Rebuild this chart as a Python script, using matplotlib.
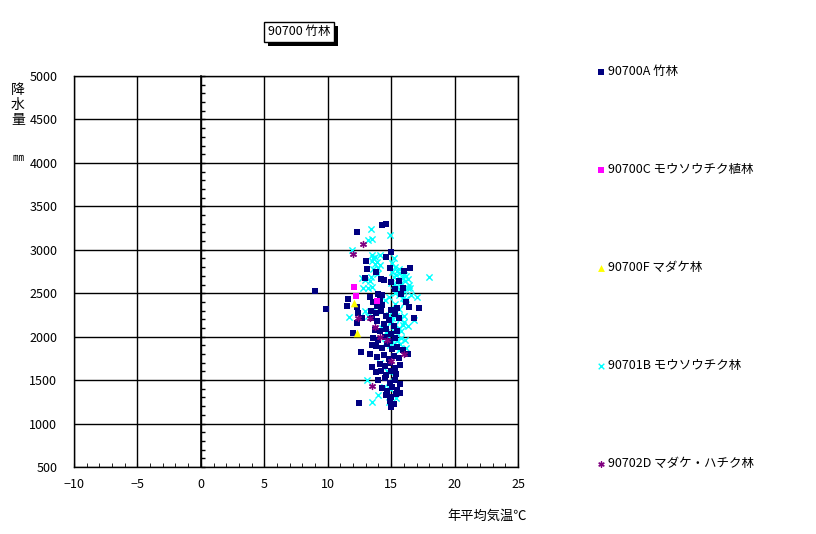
import matplotlib
matplotlib.use('Agg')
import matplotlib.pyplot as plt
from matplotlib import patheffects

plt.rcParams['font.family'] = ['Noto Sans CJK JP', 'DejaVu Sans']

# 90700A 竹林 (navy squares)
a_temp = [14.3, 14.6, 12.3, 15.0, 13.0, 13.1, 14.6, 13.8, 14.2, 14.4, 12.9, 15.0, 14.9,
          16.0, 16.5, 15.3, 15.8, 9.0, 9.9, 11.6, 11.5, 12.3, 12.4, 14.0, 14.3, 16.4,
          17.2, 16.8, 12.7, 12.3, 12.0, 13.5, 12.6, 13.3, 13.5, 16.3, 12.5, 15.0, 15.7,
          13.3, 13.6, 13.9, 13.4, 13.8, 14.1, 13.5, 14.3, 15.6, 15.9, 16.2, 15.5,
          14.2, 14.6, 15.0, 15.3, 13.9, 14.4, 14.8, 15.2, 15.6,
          13.7, 14.1, 14.6, 15.0, 15.5, 13.6, 14.0, 14.5, 14.9, 15.3,
          13.8, 14.3, 14.7, 15.1, 15.5, 15.9, 13.9, 14.4, 14.8, 15.2, 15.6,
          14.1, 14.5, 14.9, 15.3, 15.7, 13.8, 14.2, 14.6, 15.0, 15.4,
          14.0, 14.5, 14.9, 15.3, 15.7, 14.3, 14.7, 15.1, 15.5,
          14.6, 15.0, 15.4, 14.9, 15.2]
a_prec = [3290, 3300, 3210, 2980, 2870, 2780, 2920, 2740, 2665, 2650, 2680, 2625, 2790,
          2760, 2790, 2545, 2490, 2530, 2315, 2435, 2355, 2340, 2275, 2490, 2480, 2345,
          2335, 2220, 2220, 2155, 2045, 1905, 1825, 1800, 1655, 1795, 1235, 1195, 1350,
          2460, 2400, 2350, 2300, 2270, 2420, 2210, 2360, 2640, 2560, 2400, 2330,
          2290, 2240, 2310, 2260, 2180, 2150, 2190, 2120, 2210,
          2080, 2060, 2090, 2030, 2070, 1990, 1960, 2000, 1950, 1985,
          1890, 1870, 1910, 1860, 1880, 1850, 1770, 1790, 1740, 1780, 1760,
          1690, 1660, 1700, 1640, 1670, 1590, 1610, 1560, 1600, 1570,
          1500, 1520, 1470, 1500, 1450, 1410, 1380, 1420, 1390,
          1330, 1300, 1340, 1260, 1230]

# 90700C モウソウチク植林 (magenta squares)
c_temp = [12.1, 12.2, 13.9]
c_prec = [2575, 2470, 2415]

# 90700F マダケ林 (yellow triangles)
f_temp = [12.1, 12.3]
f_prec = [2385, 2045]

# 90701B モウソウチク林 (cyan crosses)
b_temp = [13.4, 14.9, 13.2, 13.5, 11.9, 13.5, 13.7, 14.1, 15.2, 18.0, 12.7, 12.9, 13.3,
          12.8, 13.2, 13.5, 17.0, 11.7, 14.5, 14.8, 16.8, 14.1, 13.1, 14.0, 13.5, 14.8,
          15.4, 14.4,
          13.5, 13.7, 13.9, 14.1, 13.6, 13.8, 14.0, 13.9, 13.4, 13.6,
          15.1, 15.3, 15.5, 15.7, 16.0, 16.2, 15.2, 15.5, 15.8, 16.1, 16.4, 15.4, 15.7,
          16.0, 16.3, 15.6, 15.9, 16.2, 15.3, 16.6, 15.1, 15.0,
          15.4, 15.6, 15.9, 16.5, 15.2, 16.3, 15.8, 16.0,
          14.8, 15.1, 15.4, 15.7, 16.0, 14.9, 15.3, 15.6, 15.9, 16.3, 14.6, 15.0, 15.4,
          15.8, 16.1, 14.5, 14.9, 15.3, 15.7, 16.2, 14.3, 15.5,
          15.0, 15.2, 15.5, 15.8, 14.7, 16.0, 15.6, 15.1,
          12.9, 13.2, 14.7, 15.2, 14.9, 13.8, 15.6, 15.3]
b_prec = [3235, 3170, 3115, 3125, 3000, 2940, 2920, 2940, 2900, 2685, 2670, 2650, 2635,
          2560, 2555, 2575, 2460, 2225, 2420, 2460, 2190, 1695, 1500, 1330, 1250, 1250,
          1290, 1425,
          2870, 2840, 2860, 2820, 2780, 2760, 2790, 2720, 2690, 2900,
          2850, 2800, 2760, 2730, 2710, 2700, 2690, 2650, 2620, 2640, 2600, 2580, 2550,
          2520, 2560, 2480, 2450, 2430, 2500, 2480, 2740, 2620,
          2710, 2780, 2680, 2560, 2590, 2660, 2520, 2390,
          2250, 2220, 2240, 2200, 2170, 2160, 2130, 2100, 2140, 2120, 2050, 2020, 2000,
          1990, 1960, 1930, 1900, 1880, 1910, 1870, 2100, 1960,
          2180, 2070, 1950, 2060, 1980, 2240, 1850, 1940,
          2300, 2240, 1600, 1550, 1400, 2300, 2320, 2380]

# 90702D マダケ・ハチク林 (purple asterisks)
d_temp = [12.8, 12.0, 12.4, 13.3, 13.7, 14.1, 14.7, 15.0, 13.5, 16.0]
d_prec = [3065, 2950, 2210, 2210, 2115, 2000, 1960, 1715, 1430, 1800]

x_ticks = [-10, -5, 0, 5, 10, 15, 20, 25]
y_ticks = [500, 1000, 1500, 2000, 2500, 3000, 3500, 4000, 4500, 5000]

fig = plt.figure(figsize=(8.16, 5.34), dpi=100)
ax = fig.add_axes([74 / 816, 67 / 534, 444 / 816, 391 / 534])

ax.scatter(b_temp, b_prec, marker='x', s=20, color='#00FFFF', linewidths=1, zorder=3,
           label='90701B モウソウチク林')
ax.scatter(a_temp, a_prec, marker='s', s=24, color='#000080', linewidths=0, zorder=4,
           label='90700A 竹林')
ax.scatter(d_temp, d_prec, marker=(6, 2, 0), s=18, color='#800080', linewidths=1, zorder=5,
           label='90702D マダケ・ハチク林')
ax.scatter(c_temp, c_prec, marker='s', s=24, color='#FF00FF', linewidths=0, zorder=5,
           label='90700C モウソウチク植林')
ax.scatter(f_temp, f_prec, marker='^', s=30, color='#FFFF00', linewidths=0, zorder=5,
           label='90700F マダケ林')

ax.set_xlim(-10, 25)
ax.set_ylim(500, 5000)
ax.set_xticks(x_ticks)
ax.set_yticks(y_ticks)
ax.set_xticks(range(-10, 26), minor=True)
ax.grid(True, which='major', color='black', lw=1, zorder=1)
ax.tick_params(axis='x', which='both', direction='in', length=3, labelsize=9, pad=8)
ax.tick_params(axis='y', length=0, labelsize=9, pad=12)
for sp in ax.spines.values():
    sp.set_linewidth(1)

# y axis crossing at x = 0 with small ticks every 100 mm
sec = ax.secondary_yaxis(10 / 35)
sec.set_yticks(range(500, 5001, 100))
sec.tick_params(direction='in', length=3, labelleft=False, width=1)
sec.spines['left'].set_linewidth(1.2)

ax.set_xlabel('年平均気温℃', fontsize=9.5)
ax.xaxis.set_label_coords(1.02, -0.11)
ax.xaxis.label.set_ha('right')

fig.text(18 / 816, 1 - 105 / 534, '降\n水\n量', fontsize=10, ha='center', va='center',
         linespacing=1.1)
fig.text(18 / 816, 1 - 158 / 534, '㎜', fontsize=8, ha='center', va='center')

# title box with drop shadow
title = fig.text(299 / 816, 1 - 32 / 534, '90700 竹林', fontsize=9, ha='center',
                 va='center',
                 bbox=dict(boxstyle='square,pad=0.3', fc='white', ec='black', lw=1))
title.get_bbox_patch().set_path_effects([
    patheffects.SimplePatchShadow(offset=(3, -3), shadow_rgbFace='black', alpha=1),
    patheffects.Normal()])

handles, labels = ax.get_legend_handles_labels()
order = ['90700A 竹林', '90700C モウソウチク植林', '90700F マダケ林',
         '90701B モウソウチク林', '90702D マダケ・ハチク林']
hmap = dict(zip(labels, handles))
fig.legend([hmap[k] for k in order], order, loc='upper left',
           bbox_to_anchor=(593 / 816, 1 - 60 / 534), frameon=False, fontsize=9,
           handlelength=0.5, handletextpad=0.3, labelspacing=6.8, markerscale=0.9,
           borderaxespad=0)

fig.savefig('out.png', dpi=100)
